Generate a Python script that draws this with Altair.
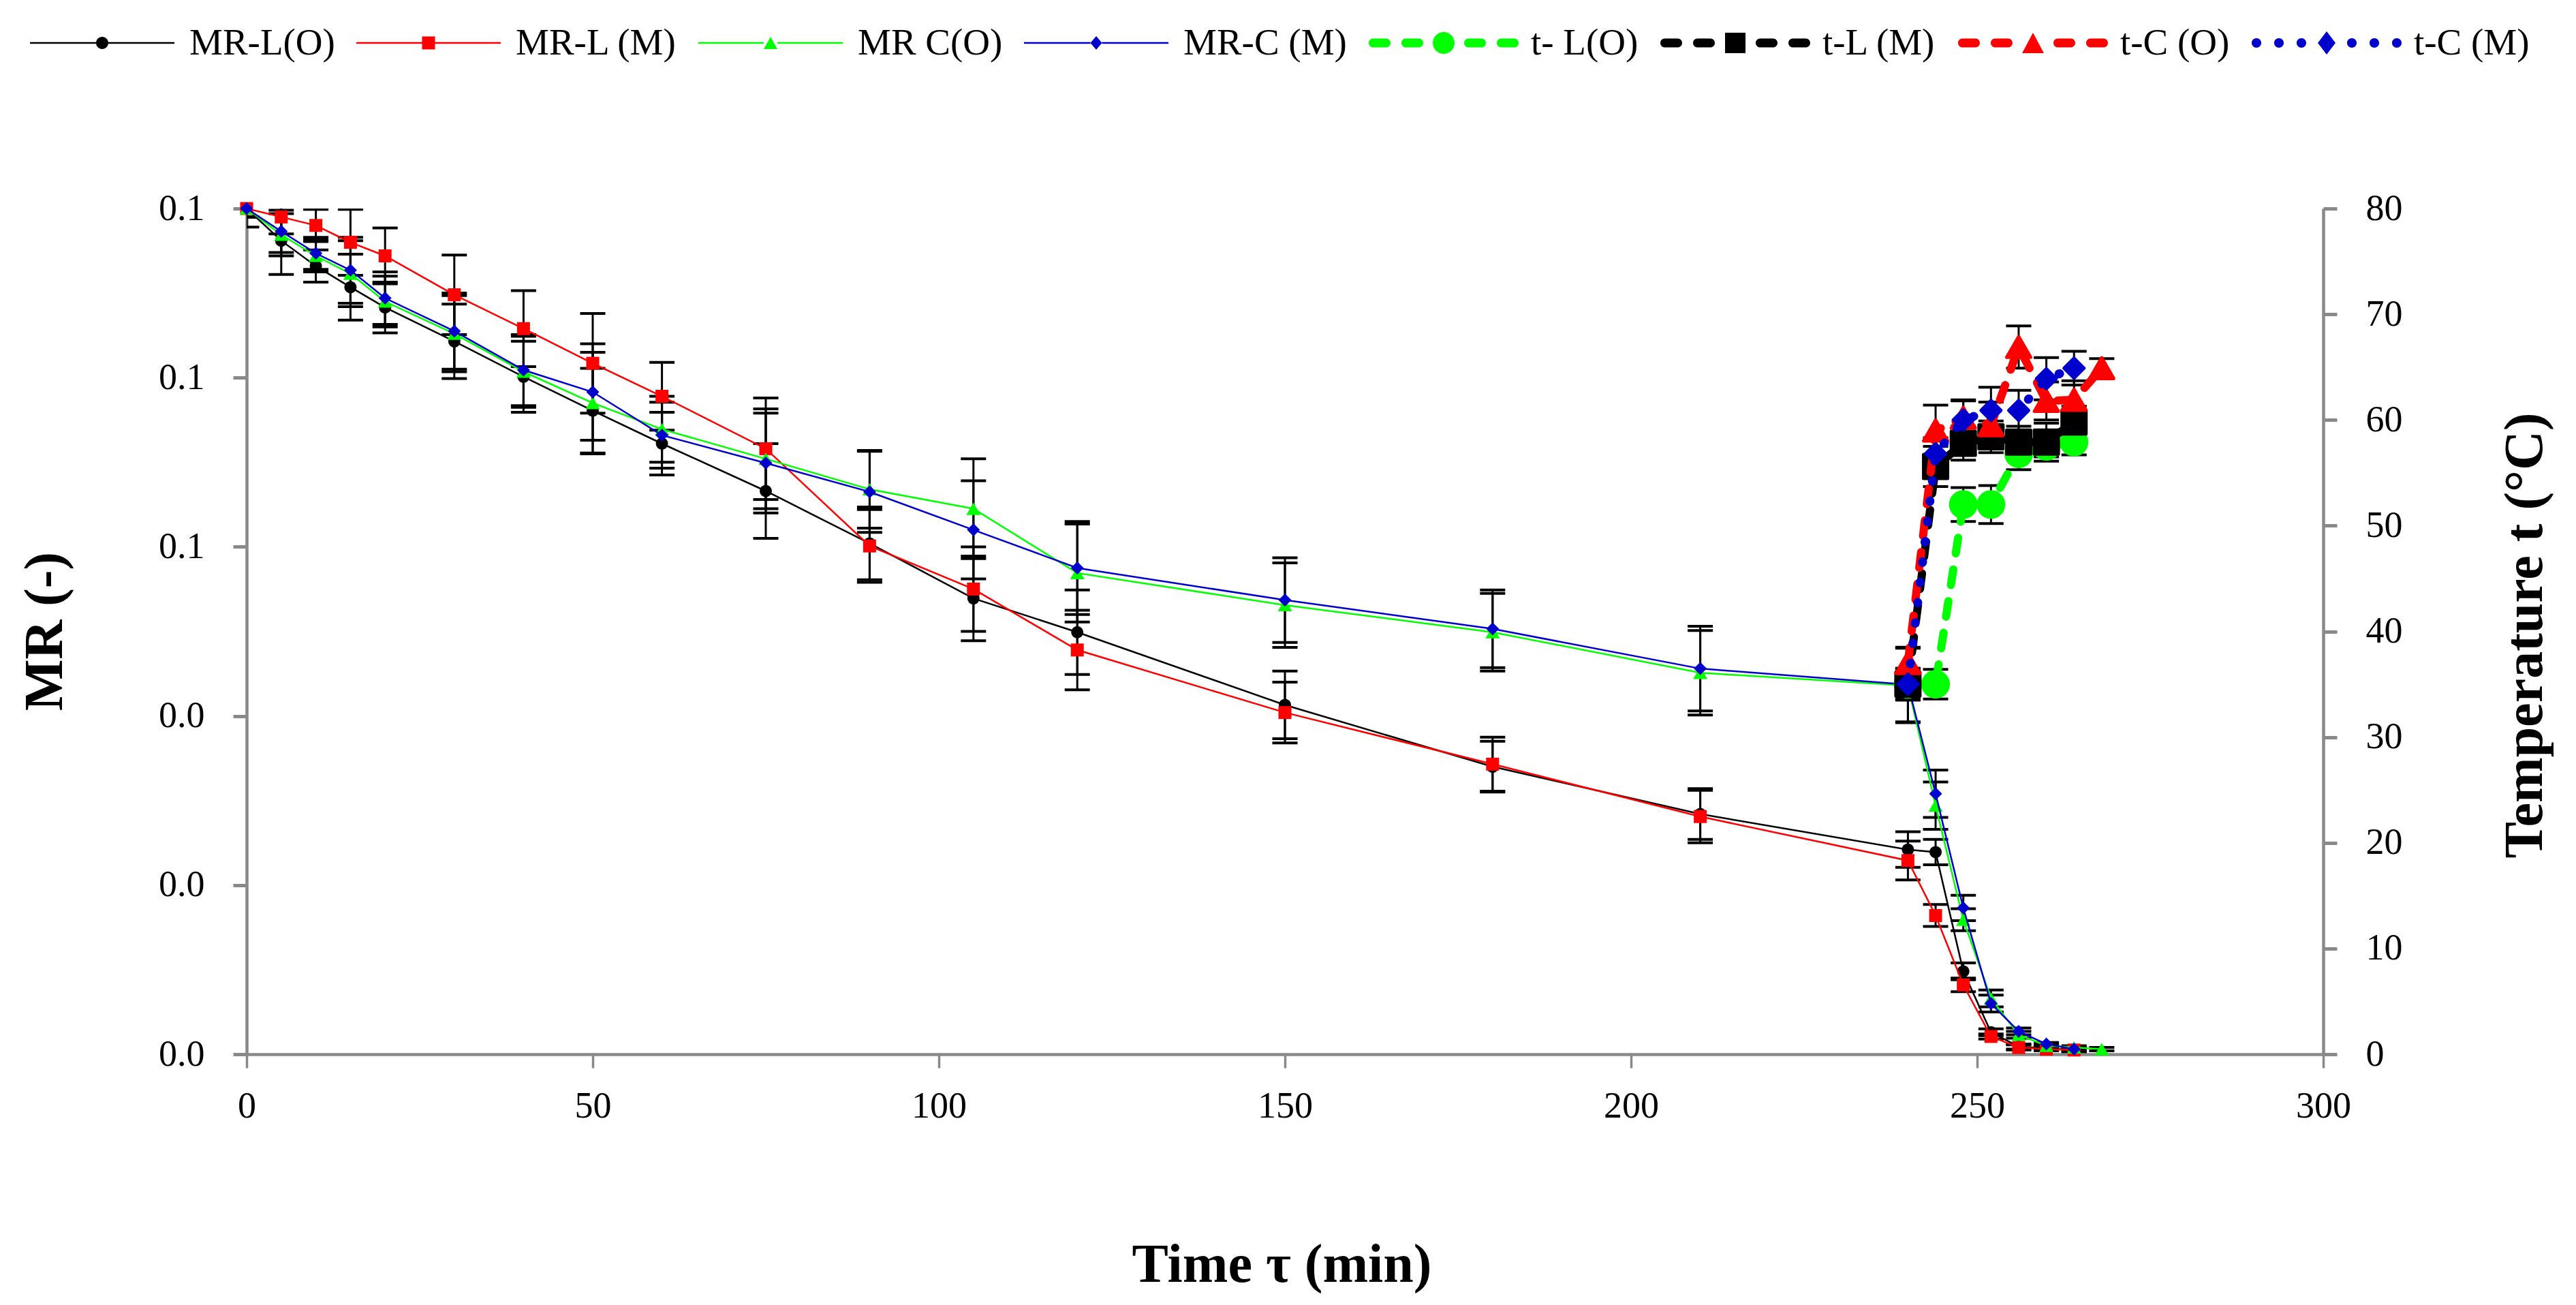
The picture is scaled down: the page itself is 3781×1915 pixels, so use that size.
from __future__ import annotations

import altair as alt
import pandas as pd

FONT = "Liberation Serif"
GRAY = "#898989"

SERIES = ["MR-L(O)", "MR-L (M)", "MR C(O)", "MR-C (M)", "t- L(O)", "t-L (M)", "t-C (O)", "t-C (M)"]
COLORS = ["#000000", "#ff0000", "#00ff00", "#0000cc", "#00ff00", "#000000", "#ff0000", "#0000cc"]

# drying time (min)
time_mr = [0, 5, 10, 15, 20, 30, 40, 50, 60, 75, 90, 105, 120, 150, 180, 210, 240, 244, 248, 252, 256, 260, 264]
time_mr_co = time_mr + [268]
time_t = [240, 244, 248, 252, 256, 260, 264]
time_t_co = time_t + [268]

# moisture ratio (-) and error bars
mr_l_o = [0.1, 0.0962, 0.0932, 0.0907, 0.0883, 0.0843, 0.0801, 0.0761, 0.0722, 0.0666, 0.0604, 0.0539,
          0.0499, 0.0413, 0.0340, 0.0284, 0.0242, 0.0239, 0.0098, 0.0026, 0.0009, 0.0007, 0.0005]
mr_l_o_err = [0.0022, 0.0040, 0.0019, 0.0039, 0.0030, 0.0044, 0.0042, 0.0050, 0.0037, 0.0056, 0.0043, 0.0050,
              0.0050, 0.0040, 0.0030, 0.0030, 0.0021, 0.0015, 0.0010, 0.0004, 0.0003, 0.0002, 0.0002]
mr_l_m = [0.1, 0.0990, 0.0980, 0.0960, 0.0944, 0.0898, 0.0858, 0.0817, 0.0778, 0.0716, 0.0601, 0.0550,
          0.0478, 0.0404, 0.0343, 0.0281, 0.0229, 0.0164, 0.0082, 0.0021, 0.0008, 0.0006, 0.0005]
mr_l_m_err = [0.0010, 0.0020, 0.0019, 0.0039, 0.0033, 0.0047, 0.0045, 0.0059, 0.0040, 0.0060, 0.0043, 0.0050,
              0.0047, 0.0036, 0.0032, 0.0031, 0.0023, 0.0013, 0.0008, 0.0003, 0.0003, 0.0002, 0.0002]
mr_c_o = [0.1, 0.0969, 0.0944, 0.0923, 0.0890, 0.0852, 0.0807, 0.0770, 0.0739, 0.0704, 0.0668, 0.0645,
          0.0569, 0.0531, 0.0499, 0.0451, 0.0436, 0.0294, 0.0159, 0.0066, 0.0023, 0.0010, 0.0008, 0.0006]
mr_c_o_err = [0.0010, 0.0025, 0.0019, 0.0039, 0.0030, 0.0045, 0.0042, 0.0060, 0.0039, 0.0059, 0.0046, 0.0059,
              0.0058, 0.0050, 0.0046, 0.0050, 0.0044, 0.0028, 0.0013, 0.0010, 0.0004, 0.0002, 0.0002, 0.0002]
mr_c_m = [0.1, 0.0973, 0.0947, 0.0927, 0.0894, 0.0855, 0.0809, 0.0783, 0.0732, 0.0699, 0.0665, 0.0620,
          0.0575, 0.0537, 0.0503, 0.0456, 0.0437, 0.0308, 0.0173, 0.0060, 0.0027, 0.0012, 0.0006]
mr_c_m_err = [0.0010, 0.0025, 0.0019, 0.0039, 0.0031, 0.0045, 0.0042, 0.0057, 0.0039, 0.0059, 0.0048, 0.0058,
              0.0055, 0.0050, 0.0046, 0.0050, 0.0044, 0.0028, 0.0015, 0.0010, 0.0004, 0.0002, 0.0002]

# temperature (°C) and error bars
t_l_o = [35.0, 35.0, 52.0, 52.0, 56.8, 57.5, 57.9]
t_l_o_err = [1.4, 1.4, 1.6, 1.8, 1.5, 1.0, 1.2]
t_l_m = [35.0, 55.6, 57.8, 58.4, 57.9, 57.9, 59.8]
t_l_m_err = [1.5, 1.9, 1.6, 1.5, 1.5, 1.8, 1.5]
t_c_o = [37.0, 59.0, 60.2, 59.5, 66.9, 61.8, 61.9, 64.9]
t_c_o_err = [1.5, 2.4, 1.7, 2.2, 2.0, 1.8, 1.8, 0.9]
t_c_m = [35.0, 56.8, 60.0, 60.9, 60.9, 63.9, 64.9]
t_c_m_err = [1.5, 1.5, 1.8, 2.2, 1.9, 2.0, 1.6]

_AXIS_STYLE = dict(
    grid=False, tickSize=20, tickColor=GRAY, domainColor=GRAY, domainWidth=4.5,
    labelFont=FONT, labelFontSize=54, labelColor="black",
    titleFont=FONT, titleFontSize=80, titleFontWeight="bold", titleColor="black",
    titleBaseline="alphabetic", titleAlign="center",
)
X_AXIS = alt.Axis(values=list(range(0, 301, 50)), tickWidth=3.5, labelPadding=29, labelFlush=False,
                  titleX=1519, titleY=333, **_AXIS_STYLE)
MR_AXIS = alt.Axis(orient="left", values=[0, 0.02, 0.04, 0.06, 0.08, 0.1], format=".1f", tickWidth=5,
                   labelPadding=42, titleAngle=270, titleX=-272, titleY=620, **_AXIS_STYLE)
T_AXIS = alt.Axis(orient="right", values=list(range(0, 81, 10)), tickWidth=5, labelPadding=42,
                  titleAngle=270, titleX=320, titleY=626, **_AXIS_STYLE)
X_ENC = alt.X("t:Q", title="Time τ (min)", scale=alt.Scale(domain=[0, 300], nice=False), axis=X_AXIS)

# ---- legend glyphs: line + marker drawn as one filled path (unit = _R px)
_R = 30.0
_HALF = 106


def _n(px: float) -> str:
    return f"{px / _R:.3f}"


def _bar(x1: float, x2: float, h: float) -> str:
    return f"M{_n(x1)},{_n(-h)}H{_n(x2)}V{_n(h)}H{_n(x1)}Z"


def _pill(x1: float, x2: float, h: float) -> str:
    return (f"M{_n(x1 + h)},{_n(-h)}H{_n(x2 - h)}A{_n(h)},{_n(h)} 0 0 1 {_n(x2 - h)},{_n(h)}"
            f"H{_n(x1 + h)}A{_n(h)},{_n(h)} 0 0 1 {_n(x1 + h)},{_n(-h)}Z")


def _dot(cx: float, r: float) -> str:
    return (f"M{_n(cx - r)},0A{_n(r)},{_n(r)} 0 1 0 {_n(cx + r)},0"
            f"A{_n(r)},{_n(r)} 0 1 0 {_n(cx - r)},0Z")


def _marker(kind: str, w: float, h: float) -> str:
    if kind == "circle":
        return _dot(0, w)
    if kind == "square":
        return _bar(-w, w, h)
    if kind == "triangle-up":
        return f"M0,{_n(-h)}L{_n(w)},{_n(h)}L{_n(-w)},{_n(h)}Z"
    return f"M0,{_n(-h)}L{_n(w)},0L0,{_n(h)}L{_n(-w)},0Z"


def _glyph(kind: str, w: float, h: float, line: str) -> str:
    if line == "solid":
        body = _bar(-_HALF, -w, 1.3) + _bar(w, _HALF, 1.3)
    elif line == "dash":
        body = "".join(_pill(a, b, 6.5) for a, b in [(-110, -78), (-62, -30), (30, 62), (78, 110)])
    else:
        body = "".join(_dot(c, 7) for c in [-103, -70, -37, 37, 70, 103])
    return body + _marker(kind, w, h)


GLYPHS = [
    _glyph("circle", 9, 9, "solid"),
    _glyph("square", 9.5, 9.5, "solid"),
    _glyph("triangle-up", 10, 9, "solid"),
    _glyph("diamond", 8.5, 10, "solid"),
    _glyph("circle", 16, 16, "dash"),
    _glyph("square", 15, 15, "dash"),
    _glyph("triangle-up", 16, 15, "dash"),
    _glyph("diamond", 13, 17, "dot"),
]

LEGEND = alt.Legend(
    orient="none", legendX=-242, legendY=-273, direction="horizontal", columns=8, title=None,
    labelFont=FONT, labelFontSize=55, labelColor="black", labelLimit=500, labelOffset=98,
    symbolSize=3600, symbolStrokeWidth=0, symbolOpacity=1, columnPadding=31, padding=0,
)


def _frame(times, values, errors) -> pd.DataFrame:
    df = pd.DataFrame({"t": times, "v": values, "e": errors})
    df["lo"] = df["v"] - df["e"]
    df["hi"] = df["v"] + df["e"]
    return df


def _group(frames, styles, title, domain, axis, extra=()):
    def y(field):
        return alt.Y(f"{field}:Q", title=title, scale=alt.Scale(domain=domain, nice=False), axis=axis)

    bars, series = [], []
    for df, st in zip(frames, styles):
        base = alt.Chart(df).encode(x=X_ENC)
        bars.append(base.mark_rule(color="black", strokeWidth=3, clip=True).encode(y=y("lo"), y2="hi:Q"))
        for f in ("lo", "hi"):
            bars.append(
                base.mark_tick(orient="horizontal", color="black", size=37, thickness=4, opacity=1, clip=True)
                .encode(y=y(f))
            )
        line_kw = dict(color=st["color"], strokeWidth=st["width"], strokeCap="round")
        if "dash" in st:
            line_kw["strokeDash"] = st["dash"]
        series.append(base.mark_line(**line_kw).encode(y=y("v")))
        series.append(
            base.mark_point(filled=True, opacity=1, shape=st["shape"], size=st["size"], color=st["color"],
                            stroke=st["color"], strokeWidth=st.get("edge", 0), strokeJoin="round")
            .encode(y=y("v"))
        )
    return alt.layer(*bars, *series, *extra)


mr_frames = [
    _frame(time_mr, mr_l_o, mr_l_o_err),
    _frame(time_mr, mr_l_m, mr_l_m_err),
    _frame(time_mr_co, mr_c_o, mr_c_o_err),
    _frame(time_mr, mr_c_m, mr_c_m_err),
]
mr_styles = [
    dict(color=COLORS[0], shape="circle", size=324, width=2.5),
    dict(color=COLORS[1], shape="square", size=361, width=2.5),
    dict(color=COLORS[2], shape="triangle-up", size=440, width=2.5),
    dict(color=COLORS[3], shape="diamond", size=361, width=2.5),
]
t_frames = [
    _frame(time_t, t_l_o, t_l_o_err),
    _frame(time_t, t_l_m, t_l_m_err),
    _frame(time_t_co, t_c_o, t_c_o_err),
    _frame(time_t, t_c_m, t_c_m_err),
]
t_styles = [
    dict(color=COLORS[4], shape="circle", size=1369, width=12, dash=[23, 24], edge=5),
    dict(color=COLORS[5], shape="square", size=1225, width=12, dash=[23, 24], edge=5),
    dict(color=COLORS[6], shape="triangle-up", size=1225, width=12, dash=[23, 24], edge=5),
    dict(color=COLORS[7], shape="diamond", size=841, width=13, dash=[1, 29], edge=5),
]

legend_layer = (
    alt.Chart(pd.DataFrame({"series": SERIES}))
    .mark_point(filled=True, opacity=1, size=3600)
    .encode(
        color=alt.Color("series:N", scale=alt.Scale(domain=SERIES, range=COLORS), legend=LEGEND),
        shape=alt.Shape("series:N", scale=alt.Scale(domain=SERIES, range=GLYPHS), legend=LEGEND),
    )
    .transform_filter("false")
)

mr_group = _group(mr_frames, mr_styles, "MR (-)", [0, 0.1], MR_AXIS, extra=(legend_layer,))
t_group = _group(t_frames, t_styles, "Temperature t (°C)", [0, 80], T_AXIS)

chart = (
    alt.layer(mr_group, t_group)
    .resolve_scale(y="independent")
    .properties(
        width=3048,
        height=1241,
        autosize=alt.AutoSizeParams(type="none"),
        padding={"left": 354, "top": 298, "right": 363, "bottom": 360},
    )
    .configure_view(stroke=None)
)

chart.save("out.html", embed_options={"renderer": "svg", "actions": False})
